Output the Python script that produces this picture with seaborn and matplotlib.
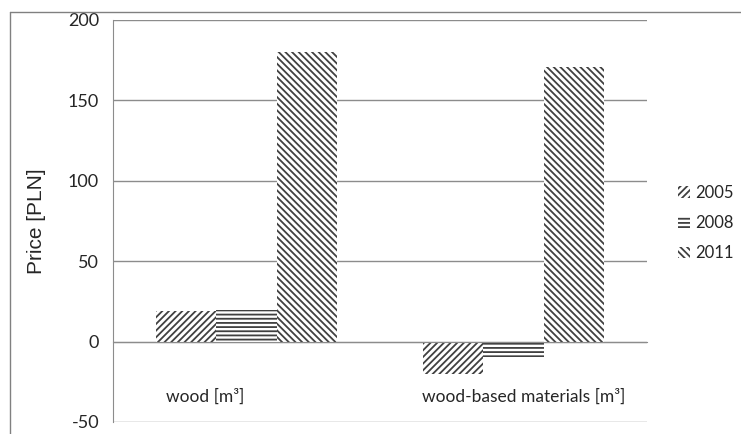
import matplotlib
matplotlib.use("Agg")
import matplotlib.pyplot as plt
import seaborn as sns
import pandas as pd
from matplotlib.patches import Patch
from matplotlib.lines import Line2D

categories = ["wood [m³]", "wood-based materials [m³]"]
years = ["2005", "2008", "2011"]
v2005 = [19, -20]
v2008 = [19.5, -9.7]
v2011 = [180, 171]
hatches = ["/////", "----", "\\\\\\\\\\"]

rows = []
for i, c in enumerate(categories):
    for y, vals in zip(years, [v2005, v2008, v2011]):
        rows.append({"category": c, "year": y, "value": vals[i]})
df = pd.DataFrame(rows)

sns.set_style("white")
plt.rcParams["font.family"] = ["Lato", "DejaVu Sans"]
plt.rcParams["hatch.linewidth"] = 1.3
plt.rcParams["axes.unicode_minus"] = False

fig = plt.figure(figsize=(7.41, 4.34), dpi=100)
ax = fig.add_axes([113/741, 1-422/434, (647-113)/741, (422-20)/434])

sns.barplot(data=df, x="category", y="value", hue="year", hue_order=years,
            order=categories, width=0.675, ax=ax, legend=False,
            palette=["white"]*3, saturation=1)

hatch_col = "#404040"
for j, cont in enumerate(ax.containers):
    for bar in cont:
        bar.set_hatch(hatches[j])
        bar.set_edgecolor(hatch_col)
        bar.set_linewidth(0)
        bar.set_facecolor("white")

ax.set_ylim(-50, 200)
ax.set_xlim(-0.5, 1.5)
ax.set_yticks([-50, 0, 50, 100, 150, 200])
ax.yaxis.grid(True, color="#8c8c8c", linewidth=1)
ax.set_axisbelow(True)
for s in ["top", "right"]:
    ax.spines[s].set_visible(False)
ax.spines["left"].set_color("#8c8c8c")
ax.spines["bottom"].set_position(("data", 0))
ax.spines["bottom"].set_color("#8c8c8c")
ax.set_xticks([-0.5, 0.5, 1.5])
ax.set_xticklabels([])
ax.tick_params(axis="x", direction="out", length=4, color="#8c8c8c", width=1)
ax.tick_params(axis="y", direction="out", length=6, color="#8c8c8c", width=1,
               labelsize=13, pad=4)
ax.set_xlabel("")
ax.set_ylabel("Price [PLN]", family="Liberation Sans", fontsize=15, labelpad=16)

label_x = [-0.155, 1.039]
for xx, c in zip(label_x, categories):
    ax.text(xx, -34, c, ha="center", va="center", fontsize=12.5)

handles = [Patch(facecolor="white", edgecolor=hatch_col, hatch=h, linewidth=0) for h in hatches]
leg = fig.legend(handles, years, loc="center left", bbox_to_anchor=(678/741, 1-223/434),
                 frameon=False, fontsize=12, handlelength=0.7, handleheight=0.7,
                 handletextpad=0.35, labelspacing=0.85, borderaxespad=0, borderpad=0)

fig.add_artist(Line2D([10/741, 1], [1-12/434, 1-12/434], color="#808080", lw=1))
fig.add_artist(Line2D([10/741, 10/741], [0, 1-12/434], color="#808080", lw=1))

fig.savefig("out.png", dpi=100)
